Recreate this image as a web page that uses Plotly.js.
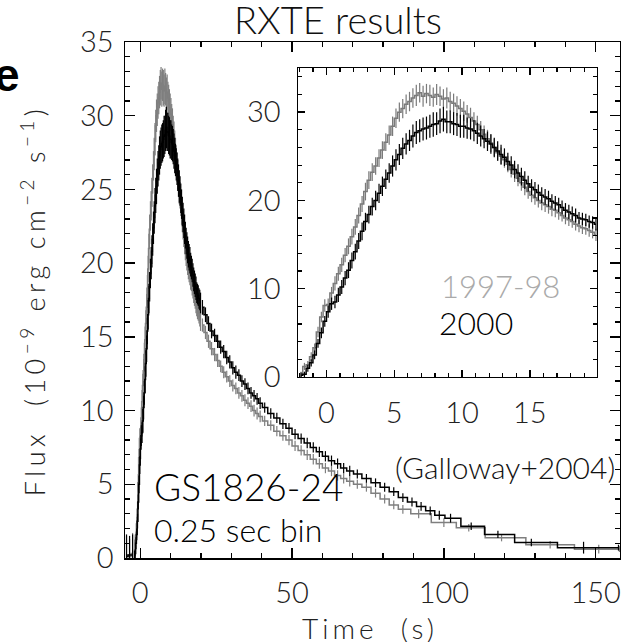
<!DOCTYPE html>
<html>
<head>
<meta charset="utf-8">
<script src="https://cdn.plot.ly/plotly-3.0.1.min.js"></script>
<style>
html, body { margin: 0; padding: 0; background: #fff; }
#chart { width: 621px; height: 642px; }
</style>
</head>
<body>
<div id="chart"></div>
<script>
// ---- Inset data: 0.25 s bins, first bin centre -1.875 s ----
const insetStart = -1.875;
const insetBin = 0.25;
const gray9798 = [
  0.3, 1.2, 1.4, 2.3, 3.3, 5.1, 6.8, 8.1,
  8.2, 9.5, 10.6, 11.7, 12.7, 13.8, 14.8, 15.9,
  17.0, 18.3, 19.6, 21.0, 22.3, 23.2, 23.9, 24.8,
  25.7, 26.6, 27.4, 28.4, 29.3, 30.0, 30.4, 30.9,
  31.2, 31.6, 31.9, 32.2, 31.8, 32.1, 31.9, 31.7,
  32.0, 31.8, 31.5, 31.6, 31.2, 31.0, 30.7, 30.4,
  30.1, 29.8, 29.4, 29.0, 28.6, 28.0, 27.5, 27.0,
  26.5, 26.0, 25.4, 25.0, 24.6, 24.1, 23.5, 23.0,
  22.5, 22.0, 21.5, 21.0, 20.6, 20.3, 20.0, 19.7,
  19.5, 19.3, 19.0, 18.9, 18.6, 18.3, 18.0, 17.8,
  17.6, 17.3, 17.1, 16.9, 16.8, 16.6, 16.4, 16.1
];
const gray9798Err = [
  0.3, 0.4, 0.4, 0.5, 0.5, 0.6, 0.6, 0.7,
  0.7, 0.7, 0.8, 0.8, 0.8, 0.8, 0.9, 0.9,
  0.9, 0.9, 0.9, 1.0, 1.0, 1.0, 1.0, 1.0,
  1.0, 1.0, 1.1, 1.1, 1.1, 1.1, 1.1, 1.1,
  1.1, 1.1, 1.2, 1.1, 1.2, 1.1, 1.2, 1.1,
  1.2, 1.1, 1.1, 1.2, 1.1, 1.1, 1.1, 1.1,
  1.1, 1.0, 1.1, 1.0, 1.0, 1.0, 1.0, 1.0,
  1.0, 1.0, 0.9, 1.0, 0.9, 0.9, 0.9, 0.9,
  0.9, 0.9, 0.9, 0.8, 0.8, 0.8, 0.8, 0.8,
  0.8, 0.8, 0.8, 0.8, 0.8, 0.7, 0.7, 0.7,
  0.7, 0.7, 0.7, 0.7, 0.7, 0.7, 0.7, 0.7
];
const black2000 = [
  0.2, 0.3, 1.0, 1.6, 2.5, 3.8, 5.0, 6.3,
  7.4, 8.3, 8.5, 9.3, 10.2, 11.2, 12.1, 13.2,
  14.2, 15.4, 16.5, 17.6, 18.4, 19.3, 20.0, 20.8,
  21.6, 22.4, 23.1, 23.9, 24.6, 25.2, 25.9, 26.4,
  26.8, 27.3, 27.7, 27.9, 28.1, 28.2, 28.4, 28.6,
  28.7, 29.0, 29.2, 28.9, 28.9, 28.7, 28.6, 28.4,
  28.4, 28.2, 28.1, 27.9, 27.6, 27.3, 27.0, 26.7,
  26.4, 26.0, 25.6, 25.2, 24.9, 24.4, 24.0, 23.5,
  23.1, 22.7, 22.3, 21.9, 21.5, 21.2, 20.9, 20.6,
  20.4, 20.2, 19.9, 19.7, 19.5, 19.2, 18.9, 18.7,
  18.5, 18.3, 18.0, 17.9, 17.8, 17.6, 17.5, 17.3
];
const black2000Err = [
  0.3, 0.3, 0.4, 0.4, 0.5, 0.5, 0.6, 0.6,
  0.7, 0.7, 0.7, 0.8, 0.8, 0.8, 0.9, 0.9,
  0.9, 0.9, 1.0, 1.0, 1.0, 1.0, 1.1, 1.1,
  1.1, 1.1, 1.1, 1.2, 1.2, 1.2, 1.2, 1.2,
  1.2, 1.3, 1.3, 1.3, 1.3, 1.3, 1.3, 1.4,
  1.3, 1.4, 1.4, 1.3, 1.3, 1.3, 1.3, 1.3,
  1.3, 1.2, 1.2, 1.2, 1.2, 1.2, 1.1, 1.1,
  1.1, 1.1, 1.1, 1.1, 1.0, 1.0, 1.0, 1.0,
  1.0, 1.0, 1.0, 0.9, 0.9, 0.9, 0.9, 0.9,
  0.9, 0.9, 0.8, 0.8, 0.8, 0.8, 0.8, 0.8,
  0.8, 0.8, 0.7, 0.7, 0.7, 0.7, 0.7, 0.7
];

// ---- Main panel: pre-burst bins ----
const preTime = [-4.5, -3.5, -2.5];
const grayPre = [0.2, 0.1, 0.3];
const grayPreErr = [1.3, 1.2, 1.4];
const blackPre = [0.1, 0.2, 0.2];
const blackPreErr = [1.5, 1.3, 1.4];

// ---- Main panel: decay tail (rebinned) ----
const grayTailTime = [
  20.5, 21.5, 22.5, 23.5, 24.5, 25.5, 26.5, 27.5, 28.5, 29.5,
  30.5, 31.5, 32.5, 33.5, 34.5, 35.5, 36.5, 37.5, 38.5, 39.5,
  41, 43, 45, 47, 49, 51, 53, 55, 57, 59, 61, 63, 65, 67, 69,
  71.5, 74.5, 77.5, 80.5, 83.5, 86.5,
  91.7, 100, 108.2, 119, 135, 151, 157.8
];
const grayTail = [
  15.8, 15.3, 14.7, 14.2, 13.8, 13.4, 13.0, 12.6, 12.3, 12.0,
  11.7, 11.5, 11.2, 11.0, 10.7, 10.5, 10.3, 10.0, 9.8, 9.6,
  9.3, 9.0, 8.6, 8.3, 8.0, 7.6, 7.3, 7.0, 6.7, 6.4, 6.1, 5.9, 5.6, 5.4, 5.2,
  5.0, 4.8, 4.4, 4.0, 3.6, 3.3,
  3.0, 2.4, 2.05, 1.38, 0.9, 0.6, 0.6
];
const grayTailErr = [
  0.45, 0.45, 0.45, 0.45, 0.45, 0.45, 0.4, 0.4, 0.4, 0.4,
  0.4, 0.4, 0.4, 0.4, 0.4, 0.4, 0.4, 0.4, 0.4, 0.4,
  0.35, 0.35, 0.35, 0.35, 0.35, 0.35, 0.35, 0.35, 0.35, 0.35, 0.35, 0.35, 0.35, 0.35, 0.35,
  0.3, 0.3, 0.3, 0.3, 0.3, 0.3,
  0.3, 0.3, 0.25, 0.25, 0.25, 0.3, 0.2
];
const blackTailTime = [
  20.5, 21.5, 22.5, 23.5, 24.5, 25.5, 26.5, 27.5, 28.5, 29.5,
  30.5, 31.5, 32.5, 33.5, 34.5, 35.5, 36.5, 37.5, 38.5, 39.5,
  41, 43, 45, 47, 49, 51, 53, 55, 57, 59, 61, 63, 65, 67, 69,
  71.5, 74.5, 77.5, 80.5, 83.5, 86.5, 89.5, 92.5, 95.5, 98.5,
  102.2, 109, 117.8, 128.8, 146, 157.5
];
const blackTail = [
  17.0, 16.5, 15.9, 15.4, 15.1, 14.7, 14.3, 14.0, 13.6, 13.3,
  12.9, 12.6, 12.4, 12.0, 11.8, 11.5, 11.2, 11.0, 10.8, 10.5,
  10.2, 9.8, 9.5, 9.1, 8.8, 8.4, 8.1, 7.8, 7.5, 7.2, 6.9, 6.6, 6.4, 6.1, 5.9,
  5.7, 5.4, 5.1, 4.8, 4.5, 4.1, 3.8, 3.5, 3.2, 2.9,
  2.7, 2.15, 1.6, 1.05, 0.7, 0.7
];
const blackTailErr = [
  0.5, 0.5, 0.5, 0.5, 0.45, 0.45, 0.45, 0.45, 0.45, 0.45,
  0.45, 0.45, 0.4, 0.4, 0.4, 0.4, 0.4, 0.4, 0.4, 0.4,
  0.35, 0.35, 0.35, 0.35, 0.35, 0.35, 0.35, 0.35, 0.35, 0.35, 0.35, 0.35, 0.35, 0.35, 0.35,
  0.3, 0.3, 0.3, 0.3, 0.3, 0.3, 0.3, 0.3, 0.3, 0.3,
  0.3, 0.25, 0.25, 0.25, 0.4, 0.2
];

// ---- Labels ----
const titleText = 'RXTE results';
const yTitleText = 'Flux  (10<sup>−9</sup> erg cm<sup>−2</sup> s<sup>−1</sup>)';
const xTitleText = 'Time  (s)';

const GRAY = '#7f7f7f';
const INSET_GRAY = '#7a7a7a';
const BLACK = '#000000';
const FONT = 'Lato, "Liberation Sans", sans-serif';

function stepTrace(opts) {
  const t = {
    type: 'scatter', mode: 'lines',
    y: opts.y,
    line: { color: opts.color, width: 1.5, shape: 'hvh' },
    error_y: { type: 'data', array: opts.err, visible: true, color: opts.color, thickness: 1.2, width: 0 },
    xaxis: opts.xaxis, yaxis: opts.yaxis,
    hoverinfo: 'skip'
  };
  if (opts.x) { t.x = opts.x; } else { t.x0 = insetStart; t.dx = insetBin; }
  return t;
}

const data = [
  // main panel
  stepTrace({ x: preTime, y: grayPre, err: grayPreErr, color: GRAY, xaxis: 'x', yaxis: 'y' }),
  stepTrace({ y: gray9798, err: gray9798Err, color: GRAY, xaxis: 'x', yaxis: 'y' }),
  stepTrace({ x: grayTailTime, y: grayTail, err: grayTailErr, color: GRAY, xaxis: 'x', yaxis: 'y' }),
  stepTrace({ x: preTime, y: blackPre, err: blackPreErr, color: BLACK, xaxis: 'x', yaxis: 'y' }),
  stepTrace({ y: black2000, err: black2000Err, color: BLACK, xaxis: 'x', yaxis: 'y' }),
  stepTrace({ x: blackTailTime, y: blackTail, err: blackTailErr, color: BLACK, xaxis: 'x', yaxis: 'y' }),
  // inset
  stepTrace({ y: gray9798, err: gray9798Err, color: INSET_GRAY, xaxis: 'x2', yaxis: 'y2' }),
  stepTrace({ y: black2000, err: black2000Err, color: BLACK, xaxis: 'x2', yaxis: 'y2' })
];

const axisCommon = {
  showline: true, linecolor: '#000', linewidth: 1.5, mirror: 'ticks',
  ticks: 'inside', tickcolor: '#000', tickwidth: 1.3,
  showgrid: false, zeroline: false,
  ticklabeloverflow: 'allow',
  tickfont: { family: FONT, size: 29, color: '#222', weight: 300 }
};

const layout = {
  width: 621, height: 642,
  margin: { l: 125, r: 1, t: 42, b: 84 },
  paper_bgcolor: '#fff', plot_bgcolor: '#fff',
  showlegend: false,
  font: { family: FONT, color: '#222', weight: 300 },
  xaxis: Object.assign({}, axisCommon, {
    range: [-5, 158], tick0: 0, dtick: 50, ticklen: 10,
    minor: { dtick: 10, tick0: 0, ticks: 'inside', ticklen: 5, tickcolor: '#000', tickwidth: 1.3 },
    ticklabelstandoff: 9, domain: [0, 1], anchor: 'y'
  }),
  yaxis: Object.assign({}, axisCommon, {
    range: [0, 35], tick0: 0, dtick: 5, ticklen: 10,
    minor: { dtick: 1, tick0: 0, ticks: 'inside', ticklen: 5, tickcolor: '#000', tickwidth: 1.3 },
    ticklabelstandoff: 4, domain: [0, 1], anchor: 'x'
  }),
  xaxis2: Object.assign({}, axisCommon, {
    range: [-2.1, 19.95], tick0: 0, dtick: 5, ticklen: 7,
    minor: { dtick: 1, tick0: 0, ticks: 'inside', ticklen: 3.5, tickcolor: '#000', tickwidth: 1.2 },
    ticklabelstandoff: 10, domain: [0.3495, 0.9535], anchor: 'y2'
  }),
  yaxis2: Object.assign({}, axisCommon, {
    range: [0, 35], tick0: 0, dtick: 10, ticklen: 7,
    minor: { dtick: 2, tick0: 0, ticks: 'inside', ticklen: 3.5, tickcolor: '#000', tickwidth: 1.2 },
    ticklabelstandoff: 10, domain: [0.3508, 0.9496], anchor: 'x2'
  }),
  annotations: [
    { text: titleText, xref: 'paper', yref: 'paper', x: 0.430, y: 1.0445, xanchor: 'center', yanchor: 'middle', showarrow: false, font: { family: FONT, size: 38, color: '#111', weight: 300 } },
    { text: 'e', xref: 'paper', yref: 'paper', x: -0.208, y: 0.936, xanchor: 'right', yanchor: 'middle', showarrow: false, font: { family: '"Liberation Sans", Arial, sans-serif', size: 46, color: '#000', weight: 700 } },
    { text: yTitleText, xref: 'paper', yref: 'paper', x: -0.186, y: 0.5, xanchor: 'center', yanchor: 'middle', textangle: -90, showarrow: false, font: { family: FONT, size: 27, color: '#222', weight: 300 } },
    { text: xTitleText, xref: 'paper', yref: 'paper', x: 0.495, y: -0.136, xanchor: 'center', yanchor: 'middle', showarrow: false, font: { family: FONT, size: 28, color: '#222', weight: 300 } },
    { text: 'GS1826-24', xref: 'paper', yref: 'paper', x: 0.0545, y: 0.1376, xanchor: 'left', yanchor: 'middle', showarrow: false, font: { family: FONT, size: 37, color: '#000', weight: 300 } },
    { text: '0.25 sec bin', xref: 'paper', yref: 'paper', x: 0.0545, y: 0.0552, xanchor: 'left', yanchor: 'middle', showarrow: false, font: { family: FONT, size: 32, color: '#000', weight: 300 } },
    { text: '(Galloway+2004)', xref: 'paper', yref: 'paper', x: 0.994, y: 0.1764, xanchor: 'right', yanchor: 'middle', showarrow: false, font: { family: FONT, size: 30, color: '#111', weight: 300 } },
    { text: '1997-98', xref: 'paper', yref: 'paper', x: 0.634, y: 0.527, xanchor: 'left', yanchor: 'middle', showarrow: false, font: { family: FONT, size: 31, color: '#aaaaaa', weight: 300 } },
    { text: '2000', xref: 'paper', yref: 'paper', x: 0.630, y: 0.457, xanchor: 'left', yanchor: 'middle', showarrow: false, font: { family: FONT, size: 32, color: '#000', weight: 300 } }
  ]
};

Plotly.newPlot('chart', data, layout, { displayModeBar: false, staticPlot: true }).then(function (gd) {
  // the reference draws its axis titles with widely spaced letters
  gd.querySelectorAll('.annotation-text').forEach(function (el) {
    const t = el.textContent;
    if (t.indexOf('Flux') === 0) { el.style.letterSpacing = '4.5px'; }
    if (t.indexOf('Time') === 0) { el.style.letterSpacing = '4px'; }
  });
});
</script>
</body>
</html>
